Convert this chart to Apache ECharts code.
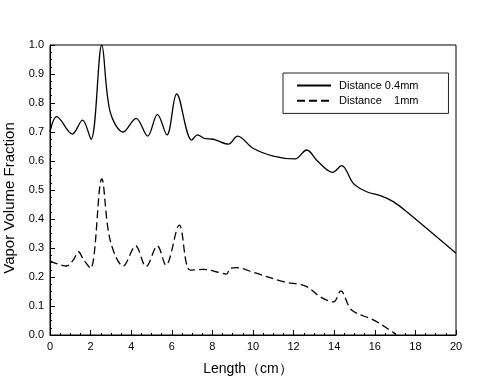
<!DOCTYPE html>
<html><head><meta charset="utf-8">
<script src="https://cdn.jsdelivr.net/npm/echarts@6/dist/echarts.min.js"></script>
<style>html,body{margin:0;padding:0;background:#fff}#c{width:480px;height:384px}</style>
</head><body><div id="c"></div>
<script>
const xs1 = [0, 0.33, 1.1, 1.6, 2.02, 2.55, 2.96, 3.61, 4.24, 4.81, 5.29, 5.76, 6.24, 6.98, 7.27, 7.6, 8.05, 8.79, 9.24, 10.0, 11.0, 12.07, 12.64, 13.2, 13.92, 14.37, 14.94, 15.6, 16.34, 16.91, 17.57, 20];
const ys1 = [0.70, 0.753, 0.693, 0.741, 0.675, 1.0, 0.77, 0.70, 0.747, 0.686, 0.761, 0.69, 0.831, 0.672, 0.69, 0.678, 0.675, 0.658, 0.686, 0.644, 0.617, 0.607, 0.638, 0.598, 0.561, 0.584, 0.523, 0.494, 0.479, 0.46, 0.425, 0.282];
const xs2 = [0, 0.82, 1.15, 1.4, 1.65, 2.0, 2.55, 2.96, 3.61, 4.22, 4.73, 5.29, 5.71, 6.37, 6.9, 7.55, 8.37, 8.7, 8.87, 9.2, 10.02, 11.5, 12.64, 13.3, 13.96, 14.32, 14.86, 15.93, 16.91, 17.05];
const ys2 = [0.255, 0.238, 0.259, 0.287, 0.26, 0.23, 0.538, 0.328, 0.238, 0.307, 0.236, 0.307, 0.241, 0.379, 0.224, 0.226, 0.215, 0.21, 0.23, 0.232, 0.216, 0.184, 0.167, 0.132, 0.114, 0.152, 0.086, 0.052, 0.009, 0];
const names = ['Distance 0.4mm', 'Distance    1mm'];
const xTitle = 'Length（cm）';
const yTitle = 'Vapor Volume Fraction';

const zip = (a, b) => a.map((v, i) => [v, b[i]]);
const font = 'Arial, "Liberation Sans", sans-serif';
const chart = echarts.init(document.getElementById('c'), null, {renderer: 'canvas'});
chart.setOption({
  animation: false,
  backgroundColor: '#fff',
  grid: {left: 50, right: 24, top: 45, bottom: 49, show: true, borderColor: '#000', borderWidth: 1,
         containLabel: false, outerBoundsMode: 'none'},
  legend: {
    data: names, orient: 'vertical', left: 283, top: 73,
    padding: [7, 30, 7, 13], itemGap: 4, itemWidth: 34, itemHeight: 14,
    borderColor: '#222', borderWidth: 1, backgroundColor: '#fff',
    itemStyle: {opacity: 0},
    textStyle: {fontFamily: font, fontSize: 11, color: '#000', padding: [0, 0, 0, 3]}
  },
  xAxis: {
    type: 'value', min: 0, max: 20, interval: 2,
    name: xTitle, nameLocation: 'middle', nameGap: 27,
    nameTextStyle: {fontFamily: font, fontSize: 14, color: '#000', padding: [0, 10, 0, 0]},
    axisLine: {lineStyle: {color: '#000'}},
    axisTick: {inside: true, length: 5, lineStyle: {color: '#000'}},
    minorTick: {show: true, splitNumber: 4, length: 2, lineStyle: {color: '#000'}},
    splitLine: {show: false},
    axisLabel: {fontFamily: font, fontSize: 11, color: '#000', margin: 6}
  },
  yAxis: {
    type: 'value', min: 0, max: 1, interval: 0.1,
    name: yTitle, nameLocation: 'middle', nameGap: 30,
    nameTextStyle: {fontFamily: font, fontSize: 15, color: '#000', padding: [0, 16, 0, 0]},
    axisLine: {show: true, lineStyle: {color: '#000'}},
    axisTick: {show: true, inside: true, length: 5, lineStyle: {color: '#000'}},
    minorTick: {show: true, splitNumber: 4, length: 2, lineStyle: {color: '#000'}},
    splitLine: {show: false},
    axisLabel: {fontFamily: font, fontSize: 11, color: '#000', margin: 6, formatter: v => v.toFixed(1)}
  },
  series: [
    {name: names[0], type: 'line', data: zip(xs1, ys1), smooth: 0.35, showSymbol: false, symbol: 'none',
     color: '#000', lineStyle: {color: '#000', width: 1.3}},
    {name: names[1], type: 'line', data: zip(xs2, ys2), smooth: 0.35, showSymbol: false, symbol: 'none',
     color: '#000', lineStyle: {color: '#000', width: 1.3, type: [8, 4]}}
  ]
});
</script></body></html>
